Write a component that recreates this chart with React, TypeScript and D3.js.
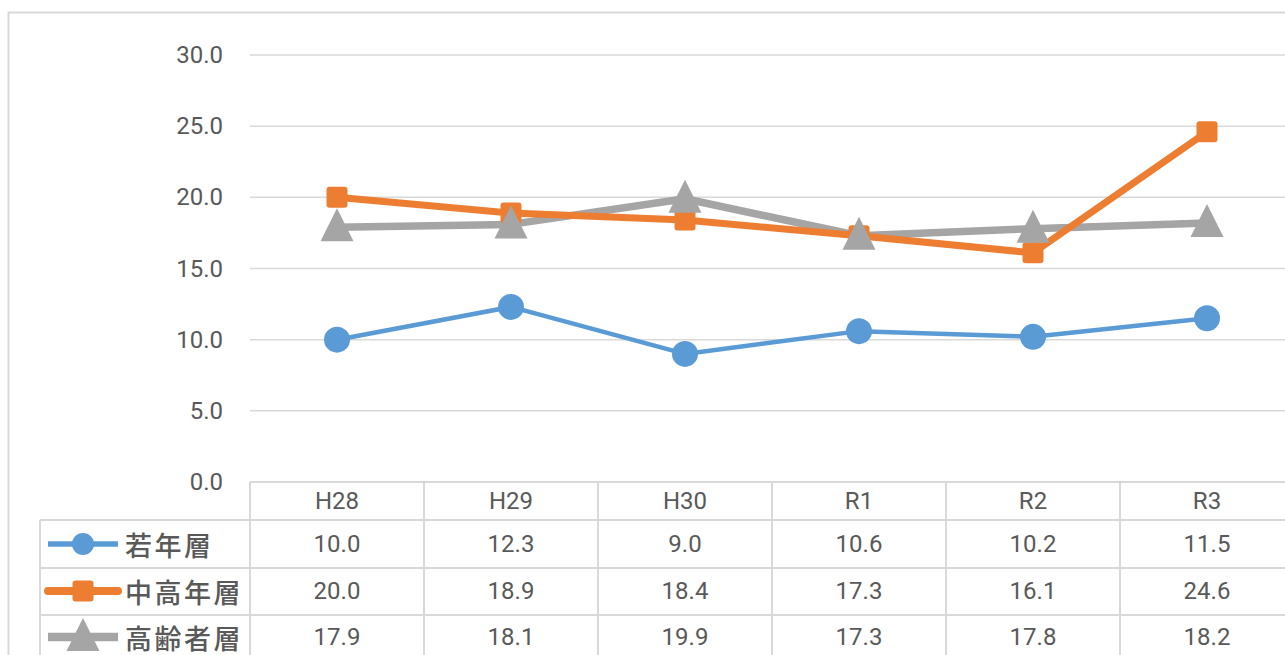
import React, { useEffect, useRef } from "react";
import * as d3 from "d3";

const categories = ["H28", "H29", "H30", "R1", "R2", "R3"];
const seriesNames = ["若年層", "中高年層", "高齢者層"];
const young = [10.0, 12.3, 9.0, 10.6, 10.2, 11.5];
const middle = [20.0, 18.9, 18.4, 17.3, 16.1, 24.6];
const elderly = [17.9, 18.1, 19.9, 17.3, 17.8, 18.2];
const yTicks = [0, 5, 10, 15, 20, 25, 30];

const colors = ["#5B9BD5", "#ED7D31", "#A5A5A5"];
const lineWidths = [4.5, 7, 7.5];
const numFont = "Roboto, 'Noto Sans', sans-serif";
const jpFont = "'Noto Sans CJK JP', 'Noto Sans', sans-serif";
const textColor = "#595959";
const gridColor = "#D9D9D9";

const App = () => {
  const ref = useRef<SVGSVGElement>(null);

  useEffect(() => {
    const svg = d3.select(ref.current);
    svg.selectAll("*").remove();

    const width = 1285;
    const height = 655;
    const series = [young, middle, elderly];

    const x = d3.scaleBand<string>()
      .domain(categories)
      .range([250, 250 + 174 * categories.length]);

    const y = d3.scaleLinear()
      .domain([0, 30])
      .range([482, 55]);

    // outer chart frame
    svg.append("rect")
      .attr("x", 8.5).attr("y", 12.5)
      .attr("width", width).attr("height", height)
      .attr("fill", "white")
      .attr("stroke", gridColor)
      .attr("stroke-width", 2);

    // gridlines + y labels
    const xEnd = x.range()[1];
    yTicks.forEach(t => {
      if (t > 0) {
        svg.append("line")
          .attr("x1", 250).attr("x2", xEnd)
          .attr("y1", y(t)).attr("y2", y(t))
          .attr("stroke", gridColor).attr("stroke-width", 1.5);
      }
      svg.append("text")
        .attr("x", 223).attr("y", y(t))
        .attr("text-anchor", "end")
        .attr("dominant-baseline", "central")
        .attr("font-family", numFont)
        .attr("font-size", 24)
        .attr("fill", textColor)
        .text(t.toFixed(1));
    });

    // data table
    const rowLines = [482, 520, 568, 615, 662];
    const rowCenters = [501, 544, 591, 637];
    const tbl = svg.append("g");
    rowLines.forEach((ry, i) => {
      tbl.append("line")
        .attr("x1", i === 0 ? 250 : 40).attr("x2", xEnd)
        .attr("y1", ry).attr("y2", ry)
        .attr("stroke", gridColor).attr("stroke-width", 2);
    });
    tbl.append("line")
      .attr("x1", 40).attr("x2", 40)
      .attr("y1", rowLines[1]).attr("y2", height)
      .attr("stroke", gridColor).attr("stroke-width", 2);
    categories.forEach(c => {
      tbl.append("line")
        .attr("x1", x(c)).attr("x2", x(c))
        .attr("y1", rowLines[0]).attr("y2", height)
        .attr("stroke", gridColor).attr("stroke-width", 2);
      tbl.append("text")
        .attr("x", x(c) + x.bandwidth() / 2).attr("y", rowCenters[0])
        .attr("text-anchor", "middle")
        .attr("dominant-baseline", "central")
        .attr("font-family", numFont).attr("font-size", 24)
        .attr("fill", textColor)
        .text(c);
    });
    series.forEach((vals, si) => {
      vals.forEach((v, ci) => {
        tbl.append("text")
          .attr("x", x(categories[ci]) + x.bandwidth() / 2)
          .attr("y", rowCenters[si + 1])
          .attr("text-anchor", "middle")
          .attr("dominant-baseline", "central")
          .attr("font-family", numFont).attr("font-size", 24)
          .attr("fill", textColor)
          .text(v.toFixed(1));
      });
      tbl.append("text")
        .attr("x", 125).attr("y", rowCenters[si + 1])
        .attr("dominant-baseline", "central")
        .attr("font-family", jpFont).attr("font-size", 27)
        .attr("font-weight", 500)
        .attr("letter-spacing", 2.5)
        .attr("fill", textColor)
        .text(seriesNames[si]);
    });

    const marker = (g, si, cx, cy, scale = 1) => {
      if (si === 0) {
        g.append("circle")
          .attr("cx", cx).attr("cy", cy).attr("r", 13 * scale)
          .attr("fill", colors[0]);
      } else if (si === 1) {
        const s = 21 * scale;
        g.append("rect")
          .attr("x", cx - s / 2).attr("y", cy - s / 2)
          .attr("width", s).attr("height", s).attr("rx", 3)
          .attr("fill", colors[1]);
      } else {
        const w = 33 * scale;
        g.append("path")
          .attr("d", `M${cx},${cy - 19 * scale}L${cx + w / 2},${cy + 14 * scale}L${cx - w / 2},${cy + 14 * scale}Z`)
          .attr("fill", colors[2]);
      }
    };

    // legend keys in table
    series.forEach((_, si) => {
      const cy = rowCenters[si + 1];
      tbl.append("line")
        .attr("x1", 48).attr("x2", 118)
        .attr("y1", cy).attr("y2", cy)
        .attr("stroke", colors[si])
        .attr("stroke-width", lineWidths[si] + 1)
        .attr("stroke-linecap", si === 1 ? "round" : "butt");
      marker(tbl, si, 83, cy, si === 0 ? 0.85 : 1);
    });

    // lines
    const line = d3.line<number>()
      .x((_, i) => x(categories[i]) + x.bandwidth() / 2)
      .y(d => y(d));

    const plot = svg.append("g");
    [2, 1, 0].forEach(si => {
      plot.append("path")
        .datum(series[si])
        .attr("fill", "none")
        .attr("stroke", colors[si])
        .attr("stroke-width", lineWidths[si])
        .attr("stroke-linejoin", "round")
        .attr("stroke-linecap", "round")
        .attr("d", line);
    });
    // markers: orange under gray as in reference
    [1, 2, 0].forEach(si => {
      series[si].forEach((v, i) => {
        marker(plot, si, x(categories[i]) + x.bandwidth() / 2, y(v));
      });
    });
  }, []);

  return (
    <svg
      ref={ref}
      width={1285}
      height={655}
      style={{ position: "absolute", left: 0, top: 0, display: "block" }}
    ></svg>
  );
};

export default App;
